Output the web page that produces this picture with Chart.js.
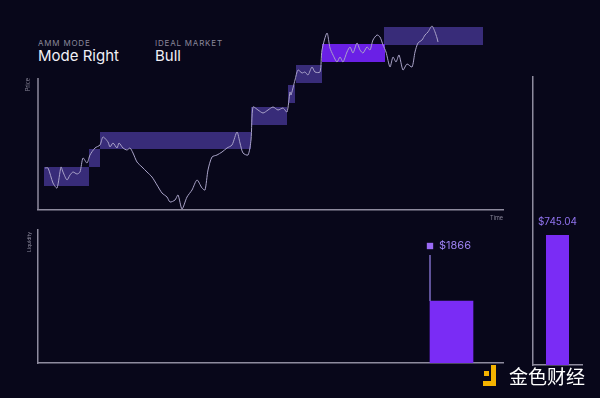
<!DOCTYPE html>
<html>
<head>
<meta charset="utf-8">
<script src="https://cdn.jsdelivr.net/npm/chart.js@4/dist/chart.umd.min.js"></script>
<style>
html, body { margin: 0; padding: 0; background: #08071a; width: 600px; height: 398px; overflow: hidden; font-family: Inter, "Noto Sans", sans-serif; }
canvas { position: absolute; left: 0; top: 0; }
.cap { position: absolute; color: #8a879a; font-size: 8px; line-height: 8px; letter-spacing: 0.8px; }
.big { position: absolute; color: #f1f0f6; font-size: 15px; line-height: 15px; }
.logo { position: absolute; background: #f5b300; }
.wm { position: absolute; left: 509px; top: 364px; font-size: 19px; line-height: 24px; color: #ffffff; font-family: "Noto Sans CJK SC", sans-serif; }
</style>
</head>
<body>
<div class="cap" style="left:38px;top:39px">AMM MODE</div>
<div class="big" style="left:38px;top:48px">Mode Right</div>
<div class="cap" style="left:155px;top:39px">IDEAL MARKET</div>
<div class="big" style="left:155px;top:48px">Bull</div>

<canvas id="priceChart" width="600" height="398"></canvas>
<canvas id="liqChart" width="600" height="398"></canvas>
<canvas id="feeChart" width="600" height="398"></canvas>

<div class="logo" style="left:491px;top:365px;width:5px;height:21px"></div>
<div class="logo" style="left:483px;top:381px;width:13px;height:5px"></div>
<div class="logo" style="left:484px;top:371px;width:5px;height:5px"></div>
<div class="wm">金色财经</div>

<script>
// price path (time, price)
const priceTimes = [7, 10, 15, 19, 23, 25, 29, 32, 35, 39, 42, 45, 49, 52, 57, 62, 65, 70, 72, 75,
    79, 81, 85, 89, 92, 95, 99, 104, 109, 114, 119, 124, 129, 132, 137, 140, 144, 149, 154, 159,
    164, 167, 170, 174, 179, 184, 189, 194, 199, 202, 205, 210, 213, 215, 220, 225, 230, 235, 240, 245,
    249, 252, 253, 257, 260, 264, 267, 270, 274, 277, 282, 284, 289, 292, 295, 299, 302, 305, 309, 312,
    315, 319, 322, 325, 329, 332, 335, 339, 342, 345, 348, 352, 355, 358, 361, 365, 369, 374, 377, 380,
    384, 387, 390, 394, 397, 399, 400];
const priceValues = [42, 42, 27, 22, 43, 38, 30, 35, 38, 36, 38, 52, 47, 55, 62, 65, 73, 68, 63, 67,
    62, 67, 62, 60, 62, 57, 48, 43, 38, 33, 25, 17, 13, 8, 10, 15, 1, 13, 20, 30,
    22, 20, 40, 53, 55, 58, 62, 65, 78, 67, 57, 55, 70, 103, 100, 97, 100, 103, 100, 102,
    98, 118, 115, 130, 140, 137, 138, 135, 143, 138, 138, 160, 177, 162, 155, 148, 153, 148, 158, 163,
    157, 167, 160, 157, 163, 160, 170, 175, 173, 165, 158, 143, 153, 148, 155, 140, 146, 143, 158, 167,
    170, 175, 178, 184, 178, 172, 168];

// liquidity ranges
const rangeStart = [6, 51, 62, 213, 250, 258, 284, 346];
const rangeEnd = [51, 62, 213, 249, 257, 284, 347, 445];
const rangeLow = [24, 43, 61, 85, 107, 127, 148, 165];
const rangeHigh = [43, 61, 78, 103, 125, 145, 166, 183];
const activeRange = 6;

// liquidity panel
const liqCenter = [413.5];
const liqValue = [62];
const currentPrice = 392;
const currentLabel = "$1866";

// fees panel
const feeLabels = ["Fees"];
const feeValues = [745.04];

const axisColor = "#8e8b9e";
const textColor = "#8a879a";
const barColor = "#7a2cf5";

function sideText(ctx, text, x, y, size) {
    ctx.save();
    ctx.translate(x, y);
    ctx.rotate(-Math.PI / 2);
    ctx.font = size + "px Inter";
    ctx.fillStyle = textColor;
    ctx.textAlign = "right";
    ctx.textBaseline = "middle";
    ctx.fillText(text, 0, 0);
    ctx.restore();
}

const bareAxis = {
    ticks: { display: false },
    grid: { display: false, drawTicks: false },
    border: { color: axisColor, width: 1.5 },
};

// price chart
const boxSets = rangeStart.map((s, i) => ({
    type: "line",
    data: [{ x: s, y: rangeHigh[i] }, { x: rangeEnd[i], y: rangeHigh[i] }],
    fill: { value: rangeLow[i] },
    backgroundColor: i === activeRange ? "#6a20e6" : "rgba(96, 74, 200, 0.55)",
    borderColor: "rgba(0,0,0,0)",
    borderWidth: 0,
    pointRadius: 0,
    order: 2,
}));

new Chart(document.getElementById("priceChart"), {
    type: "line",
    data: {
        datasets: [
            {
                data: priceTimes.map((t, i) => ({ x: t, y: priceValues[i] })),
                borderColor: "#aaa4c9",
                borderWidth: 1,
                pointRadius: 0,
                tension: 0.25,
                fill: false,
                order: 1,
            },
            ...boxSets,
        ],
    },
    options: {
        responsive: false,
        animation: false,
        events: [],
        layout: { padding: { left: 38, top: 20, right: 97, bottom: 188 } },
        plugins: { legend: { display: false }, tooltip: { enabled: false } },
        scales: {
            x: { type: "linear", min: 0, max: 465, ...bareAxis },
            y: { type: "linear", min: 0, max: 190, ...bareAxis, border: { display: false } },
        },
    },
    plugins: [{
        id: "priceAxis",
        afterDraw(chart) {
            const { ctx, chartArea } = chart;
            const top = chart.scales.y.getPixelForValue(132);
            ctx.save();
            ctx.strokeStyle = axisColor;
            ctx.lineWidth = 1.5;
            ctx.beginPath();
            ctx.moveTo(chartArea.left, top);
            ctx.lineTo(chartArea.left, chartArea.bottom);
            ctx.stroke();
            ctx.font = "5.5px Inter";
            ctx.fillStyle = textColor;
            ctx.textAlign = "right";
            ctx.textBaseline = "top";
            ctx.fillText("Time", chartArea.right, chartArea.bottom + 6);
            ctx.restore();
            sideText(ctx, "Price", chartArea.left - 10, top, 5.5);
        },
    }],
});

// liquidity chart
new Chart(document.getElementById("liqChart"), {
    type: "bar",
    data: {
        datasets: [
            {
                type: "line",
                data: [{ x: currentPrice, y: 117 }],
                pointStyle: "rect",
                pointRadius: 4.5,
                pointBackgroundColor: "#9a6af5",
                pointBorderWidth: 0,
                showLine: false,
                order: 0,
            },
            {
                type: "line",
                data: [{ x: currentPrice, y: liqValue[0] }, { x: currentPrice, y: 108 }],
                borderColor: "#7d6cc4",
                borderWidth: 1.5,
                pointRadius: 0,
                order: 1,
            },
            {
                data: liqCenter.map((c, i) => ({ x: c, y: liqValue[i] })),
                backgroundColor: barColor,
                barThickness: 43,
                order: 2,
            },
        ],
    },
    options: {
        responsive: false,
        animation: false,
        events: [],
        layout: { padding: { left: 38, top: 230, right: 97, bottom: 35 } },
        plugins: { legend: { display: false }, tooltip: { enabled: false } },
        scales: {
            x: { type: "linear", min: 0, max: 465, offset: false, ...bareAxis },
            y: { min: 0, max: 133, ...bareAxis },
        },
    },
    plugins: [{
        id: "liqLabels",
        afterDraw(chart) {
            const { ctx, chartArea } = chart;
            const pt = chart.getDatasetMeta(0).data[0];
            ctx.save();
            ctx.font = "11px Inter";
            ctx.fillStyle = "#9c80f0";
            ctx.textAlign = "left";
            ctx.textBaseline = "middle";
            ctx.fillText(currentLabel, pt.x + 9, pt.y);
            ctx.restore();
            sideText(ctx, "Liquidity", chartArea.left - 9, chartArea.top + 2, 5);
        },
    }],
});

// fees chart
new Chart(document.getElementById("feeChart"), {
    type: "bar",
    data: {
        labels: feeLabels,
        datasets: [{
            data: feeValues,
            backgroundColor: barColor,
            categoryPercentage: 1,
            barPercentage: 0.47,
        }],
    },
    options: {
        responsive: false,
        animation: false,
        events: [],
        layout: { padding: { left: 533, top: 77, right: 18, bottom: 33 } },
        plugins: { legend: { display: false }, tooltip: { enabled: false } },
        scales: {
            x: { ...bareAxis },
            y: { min: 0, max: 1650, ...bareAxis },
        },
    },
    plugins: [{
        id: "feeLabel",
        afterDraw(chart) {
            const { ctx } = chart;
            const bar = chart.getDatasetMeta(0).data[0];
            ctx.save();
            ctx.font = "10px Inter";
            ctx.fillStyle = "#9073ee";
            ctx.textAlign = "center";
            ctx.textBaseline = "bottom";
            ctx.fillText("$" + feeValues[0].toFixed(2), bar.x, bar.y - 8);
            ctx.restore();
        },
    }],
});
</script>
</body>
</html>
